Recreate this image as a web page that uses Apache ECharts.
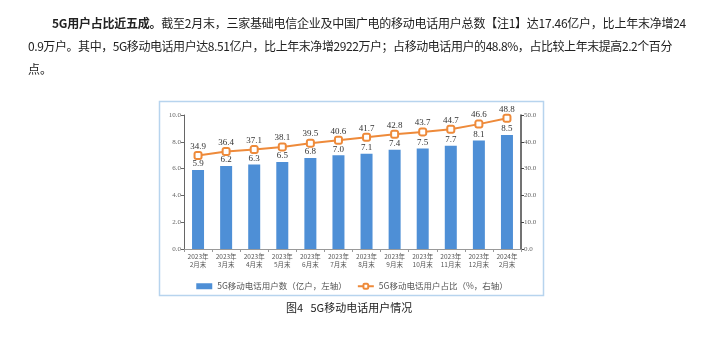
<!DOCTYPE html>
<html><head><meta charset="utf-8">
<script src="https://cdn.jsdelivr.net/npm/echarts@6/dist/echarts.min.js"></script>
<style>
html,body{margin:0;padding:0;background:#fff;width:704px;height:339px;overflow:hidden;}
#chart{position:absolute;left:0;top:0;width:704px;height:339px;}
.pl{position:absolute;white-space:nowrap;font-family:"Noto Sans CJK SC",sans-serif;font-size:12px;color:#222;line-height:14px;}
.cap{position:absolute;white-space:nowrap;font-family:"Noto Sans CJK SC",sans-serif;font-size:11px;color:#222;}
</style></head>
<body>
<div id="chart"></div>
<div class="pl" id="l1" data-x0="52" data-x1="686" style="left:52px;top:16px;"><b>5G用户占比近五成。</b>截至2月末，三家基础电信企业及中国广电的移动电话用户总数【注1】达17.46亿户，比上年末净增24</div>
<div class="pl" id="l2" data-x0="28" data-x1="672" style="left:28px;top:39px;">0.9万户。其中，5G移动电话用户达8.51亿户，比上年末净增2922万户；占移动电话用户的48.8%，占比较上年末提高2.2个百分</div>
<div class="pl" id="l3" style="left:28px;top:62px;">点。</div>
<div class="cap" style="left:286px;top:299px;">图4&nbsp;&nbsp;&nbsp;5G移动电话用户情况</div>
<script>
const categories = ['2023年\n2月末','2023年\n3月末','2023年\n4月末','2023年\n5月末','2023年\n6月末','2023年\n7月末','2023年\n8月末','2023年\n9月末','2023年\n10月末','2023年\n11月末','2023年\n12月末','2024年\n2月末'];
const users5G = [5.9, 6.2, 6.3, 6.5, 6.8, 7.0, 7.1, 7.4, 7.5, 7.7, 8.1, 8.5];
const share5G = [34.9, 36.4, 37.1, 38.1, 39.5, 40.6, 41.7, 42.8, 43.7, 44.7, 46.6, 48.8];
const leftTicks = {min:0, max:10, interval:2};
const rightTicks = {min:0, max:50, interval:10};
const barName = '5G移动电话用户数（亿户，左轴）';
const lineName = '5G移动电话用户占比（%，右轴）';

['l1','l2'].forEach(id=>{
  const el=document.getElementById(id);
  const x0=+el.dataset.x0, x1=+el.dataset.x1;
  const w=el.getBoundingClientRect().width;
  const n=el.textContent.length;
  el.style.letterSpacing=((x1-x0-w)/n)+'px';
});

const chart = echarts.init(document.getElementById('chart'));
const serif = '"Liberation Serif","Noto Sans CJK SC",serif';
chart.setOption({
  animation:false,
  grid:{left:184, right:183, top:115, bottom:90},
  graphic:[{type:'rect', shape:{x:159.5,y:101.5,width:384,height:194}, style:{fill:'none', stroke:'#b7d4ee', lineWidth:1.5}}],
  legend:{top:277, left:'center', itemGap:10, itemWidth:16, itemHeight:6,
    textStyle:{fontSize:8.5, color:'#555', fontFamily:'"Noto Sans CJK SC",sans-serif'},
    data:[{name:barName, icon:'rect'},{name:lineName}]},
  xAxis:{type:'category', data:categories,
    axisLine:{lineStyle:{color:'#999', width:1}},
    axisTick:{show:true, length:3, lineStyle:{color:'#999'}},
    axisLabel:{fontSize:6.5, color:'#555', lineHeight:8, margin:4, interval:0, fontFamily:'"Noto Sans CJK SC",sans-serif'}},
  yAxis:[
    {type:'value', min:leftTicks.min, max:leftTicks.max, interval:leftTicks.interval,
      axisLine:{show:true, lineStyle:{color:'#666', width:1}},
      axisTick:{show:true, length:3, lineStyle:{color:'#666'}},
      splitLine:{show:false},
      axisLabel:{fontSize:7, color:'#666', margin:3, formatter:v=>v.toFixed(1), fontFamily:serif}},
    {type:'value', min:rightTicks.min, max:rightTicks.max, interval:rightTicks.interval, position:'right',
      axisLine:{show:true, lineStyle:{color:'#444', width:1.5}},
      axisTick:{show:true, length:3, lineStyle:{color:'#444'}},
      splitLine:{show:false},
      axisLabel:{fontSize:7, color:'#666', margin:3, formatter:v=>v.toFixed(1), fontFamily:serif}}
  ],
  series:[
    {name:barName, type:'bar', data:users5G, barWidth:12, itemStyle:{color:'#4e8fd6'},
      label:{show:true, position:'top', distance:1.5, fontSize:9, color:'#333', fontFamily:serif, formatter:p=>p.value.toFixed(1)}},
    {name:lineName, type:'line', yAxisIndex:1, data:share5G, symbol:'emptyRoundRect', symbolSize:7,
      lineStyle:{color:'#ee8a3a', width:2}, itemStyle:{color:'#ee8a3a', borderWidth:1.5},
      label:{show:true, position:'top', distance:0, fontSize:9, color:'#333', fontFamily:serif, formatter:p=>p.value.toFixed(1)}}
  ]
});
</script>
</body></html>
